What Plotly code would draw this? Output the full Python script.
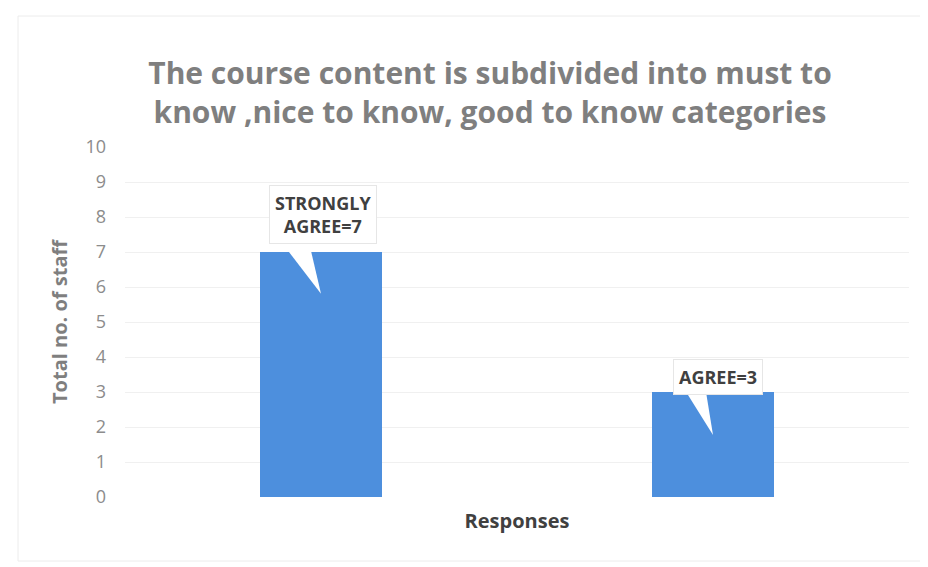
import plotly.graph_objects as go

categories = ["Strongly Agree", "Agree"]
values = [7, 3]
labels = ["STRONGLY<br>AGREE=7", "AGREE=3"]
y_ticks = list(range(0, 11))

BAR = "#4D8FDD"
FONT = "Open Sans"

fig = go.Figure()
fig.add_trace(go.Bar(x=[0, 1], y=values, width=0.31, marker=dict(color=BAR, line=dict(width=0)),
                     hoverinfo="skip"))

# callouts: box label + wedge pointer
box_offsets = [(0.005, 1.06), (0.013, 0.42)]
for i, (v, lab) in enumerate(zip(values, labels)):
    dx, dy = box_offsets[i]
    fig.add_annotation(x=i + dx, y=v + dy, xref="x", yref="y", text="<b>" + lab + "</b>",
                       showarrow=False, bgcolor="white", bordercolor="#e6e6e6", borderwidth=1,
                       borderpad=5, font=dict(family=FONT, size=18, color="#404040"))
    tip = v * 0.83 if i == 0 else v * 0.59
    base_y = v + 0.15
    x0, x1 = (i - 0.092, i - 0.028) if i == 0 else (i - 0.077, i - 0.02)
    fig.add_shape(type="path", xref="x", yref="y",
                  path=f"M {x0} {base_y} L {i} {tip} L {x1} {base_y} Z",
                  fillcolor="white", line=dict(width=0), layer="above")

fig.update_layout(
    width=928, height=567,
    margin=dict(l=117, r=27, t=139, b=78),
    paper_bgcolor="white", plot_bgcolor="white",
    showlegend=False,
    title=dict(text="<b>The course content is subdivided into must to<br>know ,nice to know, good to know categories</b>",
               x=482 / 928, xanchor="center", y=1 - 76 / 567, yanchor="middle",
               font=dict(family=FONT, size=30, color="#7f7f7f")),
    xaxis=dict(range=[-0.5, 1.5], showticklabels=False, showgrid=False, zeroline=False,
               showline=False, ticks="",
               title=dict(text="<b>Responses</b>", standoff=16,
                          font=dict(family=FONT, size=20, color="#404040"))),
    yaxis=dict(range=[0, 10], tickvals=y_ticks, showgrid=True, gridcolor="#f0f0f0", gridwidth=1,
               zeroline=False, showline=False, ticks="", ticklabelstandoff=18,
               tickfont=dict(family=FONT, size=18, color="#8c8c8c"),
               title=dict(text="<b>Total no. of staff</b>", standoff=12,
                          font=dict(family=FONT, size=20, color="#7f7f7f"))),
    bargap=0,
)
fig.add_shape(type="rect", xref="paper", yref="paper", x0=-107/784, x1=1 + 12/784, y0=-64/350, y1=1 + 131/350,
              line=dict(color="#ececec", width=1), fillcolor="rgba(0,0,0,0)", layer="below")

fig.write_html("out.html")
